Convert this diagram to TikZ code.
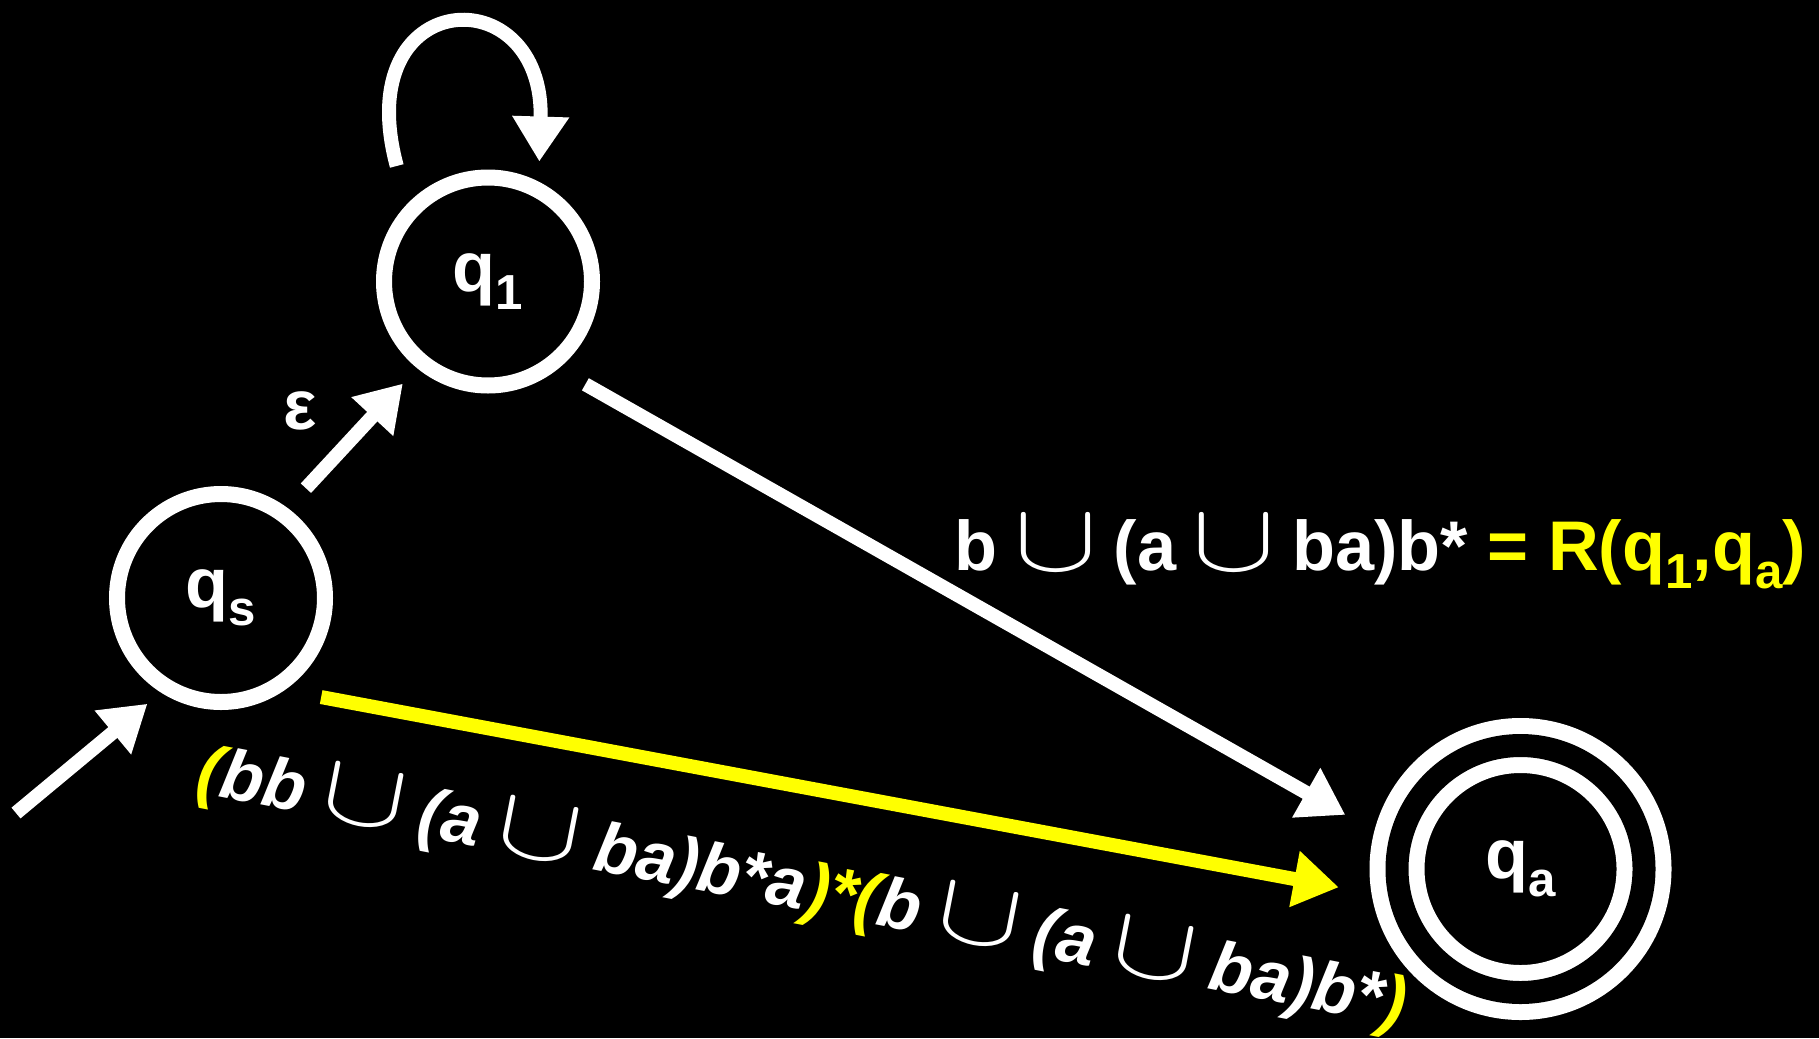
\documentclass[tikz,border=0pt]{standalone}
\usepackage{fontspec}
\setmainfont{Liberation Sans}
\usetikzlibrary{arrows.meta}
\definecolor{hlyellow}{rgb}{1,1,0}
\newcommand{\qsub}[1]{\raisebox{-0.26em}{\fontsize{14}{16}\selectfont #1}}
\newcommand{\cupsym}{\hspace{-0.3mm}\resizebox{8.3mm}{5.4mm}{$\cup$}\hspace{-0.3mm}}

\begin{document}
\begin{tikzpicture}[
  >={Triangle[length=4.5mm, width=5.4mm]},
  every node/.style={font=\fontsize{20}{24}\selectfont\bfseries, text=white},
  state/.style={circle, draw=white, line width=1.6mm, minimum size=20.8mm, inner sep=0pt, outer sep=0pt},
  accepting/.style={state, double=black, double distance=2.3mm, minimum size=24.7mm},
  trans/.style={->, draw=white, line width=1.4mm},
  hltrans/.style={->, draw=hlyellow, line width=1.4mm},
]

% ---- background ----
\fill[black] (0, 0) rectangle (18.19, 10.38);
\useasboundingbox (0, 0) rectangle (18.19, 10.38);

% ---- states ----
\node[state]     (qs) at (2.21, 4.40)   {q\qsub{s}};
\node[state]     (q1) at (4.88, 7.565)  {q\qsub{1}};
\node[accepting] (qa) at (15.205, 1.69) {q\qsub{a}};

\coordinate (start) at (0.16, 2.25);

% ---- transitions ----
\draw[trans, shorten >=0.26cm] (start) -- (qs.239);
\draw[trans, shorten <=0.35cm, shorten >=0.29cm] (qs.54) -- (q1.231);
\draw[trans, shorten <=0.49cm, shorten >=0.29cm]
  (q1.139) .. controls (3.48, 10.53) and (5.45, 10.63) .. (q1.61);
\draw[trans, shorten <=0.40cm, shorten >=0.62cm] (q1.-53.5) -- (qa.169);
\draw[hltrans, shorten <=0.49cm, shorten >=0.63cm] (qs.-60) -- (qa.194);

% ---- labels ----
\node (eps) at (3.00, 6.27) {ε};
\node[anchor=base west, inner sep=0pt] (rq1qa) at (9.54, 4.68)
  {b \cupsym{} (a \cupsym{} ba)b* \textcolor{hlyellow}{= R(q\qsub{1},q\qsub{a})}};
\node[rotate=-11, font=\fontsize{20}{24}\selectfont\bfseries\itshape] (rqsqa) at (8.02, 1.48)
  {\textcolor{hlyellow}{(}bb \cupsym{} (a \cupsym{} ba)b*a\textcolor{hlyellow}{)*(}b \cupsym{} (a \cupsym{} ba)b*\textcolor{hlyellow}{)}};

\end{tikzpicture}
\end{document}
